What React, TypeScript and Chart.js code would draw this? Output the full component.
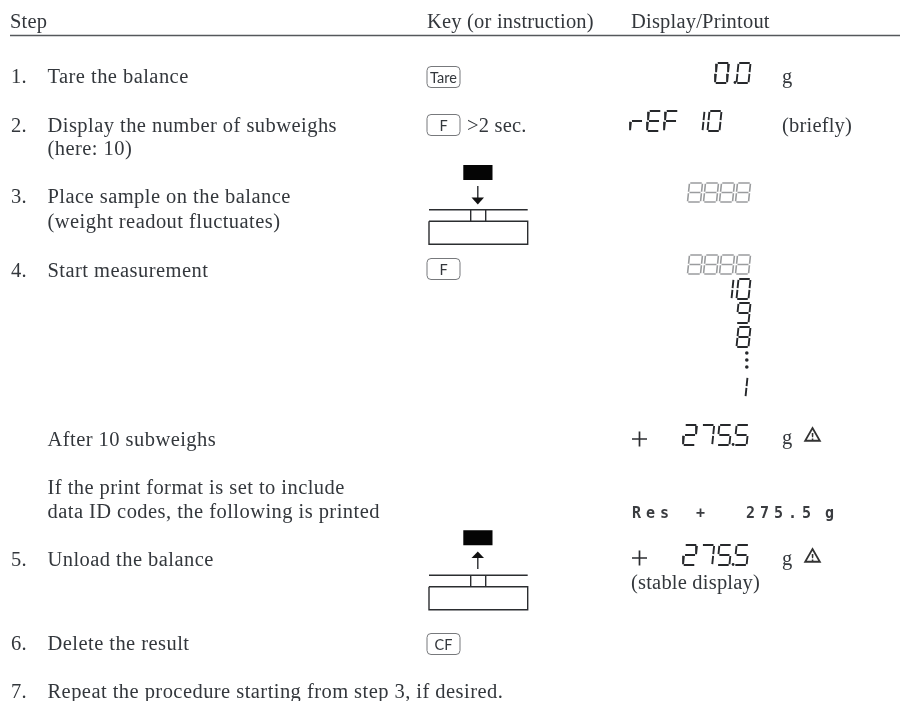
import React, { useEffect, useRef } from "react";
import { Chart, registerables } from "chart.js";

Chart.register(...registerables);

// ---- content ----
const headers = ["Step", "Key (or instruction)", "Display/Printout"];
const stepNumbers = ["1.", "2.", "3.", "4.", "5.", "6.", "7."];
const stepNumberRows = [83, 132, 203, 277, 566, 650, 698];
const stepLines = [
  "Tare the balance",
  "Display the number of subweighs",
  "(here: 10)",
  "Place sample on the balance",
  "(weight readout fluctuates)",
  "Start measurement",
  "After 10 subweighs",
  "If the print format is set to include",
  "data ID codes, the following is printed",
  "Unload the balance",
  "Delete the result",
  "Repeat the procedure starting from step 3, if desired.",
];
const stepLineRows = [83, 132, 155, 203, 228, 277, 446, 494, 518, 566, 650, 698];
const keyLabels = ["Tare", "F", "F", "CF"];
const keyRows = [77, 125, 269, 644];
const displayNotes = ["g", "(briefly)", "g", "g", "(stable display)", ">2 sec."];
const displayNoteX = [782, 782, 782, 782, 631, 467];
const displayNoteRows = [83, 132, 444, 565, 589, 132];
const printoutParts = ["Res", "+", "275.5", "g"];
const printoutX = [632, 696, 746, 825];
const blackReadouts = ["0.0", "rEF", "10", "10", "9", "8", "1", "275.5", "275.5"];
const blackReadoutX = [716, 631, 702, 731, 737.5, 737.5, 745, 684, 684];
const blackReadoutTop = [63, 111, 111, 279, 303, 327, 377, 425, 545];
const blackReadoutPitch = [21.5, 17, 17, 17, 17, 17, 17, 17.2, 17.2];
const grayReadoutTop = [183, 255];
const plusRows = [439, 558];
const warningRows = [436.5, 557.5];
const ellipsisRows = [353, 360, 367];

// ---- seven-segment geometry ----
const SEG: Record<string, string> = {
  "0": "abcdef", "1": "bc", "2": "abged", "5": "afgcd", "7": "abc", "8": "abcdefg",
  "9": "abcdfg", r: "eg", E: "afged", F: "afge",
};
type P = { x: number; y: number };
const BREAK: P = { x: NaN, y: NaN };

function glyph(ch: string, x: number, y: number, w: number, h: number): P[] {
  const out: P[] = [];
  const slant = 2;
  const px = (u: number, v: number) => ({ x: x + u * w + (1 - v) * slant - slant / 2, y: y + v * h });
  const lines: Record<string, [number, number, number, number]> = {
    a: [0.06, 0, 0.94, 0],
    b: [1, 0.04, 1, 0.46],
    c: [1, 0.54, 1, 0.96],
    d: [0.06, 1, 0.94, 1],
    e: [0, 0.54, 0, 0.96],
    f: [0, 0.04, 0, 0.46],
    g: [0.08, 0.5, 0.92, 0.5],
  };
  for (const s of SEG[ch] || "") {
    const l = lines[s];
    out.push(px(l[0], l[1]), px(l[2], l[3]), BREAK);
  }
  return out;
}

function readout(str: string, x: number, y: number, w: number, h: number, pitch: number): { segs: P[]; dots: P[] } {
  const segs: P[] = [];
  const dots: P[] = [];
  let cx = x;
  for (const ch of str) {
    if (ch === ".") {
      dots.push({ x: cx - 2.5, y: y + h - 0.5 });
    } else if (ch === "1") {
      segs.push(...glyph("1", cx - w + 1.5, y, w, h));
      cx += 6.5;
    } else {
      segs.push(...glyph(ch, cx, y, w, h));
      cx += pitch;
    }
  }
  return { segs, dots };
}

const SERIF = '"Liberation Serif", serif';
const BODY = `20.5px ${SERIF}`;
const INK = "#33373c";

const drawTexts = {
  id: "drawTexts",
  afterDatasetsDraw(chart: any) {
    const { ctx, scales } = chart;
    const X = (v: number) => scales.x.getPixelForValue(v);
    const Y = (v: number) => scales.y.getPixelForValue(v);
    ctx.save();
    ctx.fillStyle = INK;
    ctx.textBaseline = "alphabetic";
    ctx.textAlign = "left";
    const t = (s: string, x: number, y: number, font = BODY, color = INK) => {
      ctx.font = font;
      ctx.fillStyle = color;
      ctx.fillText(s, X(x), Y(y));
    };
    ctx.letterSpacing = "0.2px";
    t(headers[0], 10, 28);
    t(headers[1], 427, 28);
    t(headers[2], 631, 28);
    stepNumbers.forEach((s, i) => t(s, 11, stepNumberRows[i]));
    ctx.letterSpacing = "0.45px";
    stepLines.forEach((s, i) => t(s, 47.5, stepLineRows[i]));
    ctx.letterSpacing = "0.2px";
    displayNotes.forEach((s, i) => t(s, displayNoteX[i], displayNoteRows[i]));
    ctx.letterSpacing = "0px";

    // key caps
    keyLabels.forEach((s, i) => {
      const cy = keyRows[i];
      ctx.beginPath();
      ctx.roundRect(X(427), Y(cy - 10.5), 33, 21, 4);
      ctx.strokeStyle = "#77797c";
      ctx.lineWidth = 1;
      ctx.stroke();
      ctx.textAlign = "center";
      t(s, 443.5, cy + 5.5, "14.5px Lato, sans-serif");
      ctx.textAlign = "left";
    });

    // arrow heads
    ctx.fillStyle = "#111";
    const poly = (pts: number[][]) => {
      ctx.beginPath();
      pts.forEach((p, i) => (i ? ctx.lineTo(X(p[0]), Y(p[1])) : ctx.moveTo(X(p[0]), Y(p[1]))));
      ctx.closePath();
      ctx.fill();
    };
    poly([[471.5, 197.5], [484, 197.5], [477.8, 204.5]]);
    poly([[471.5, 558], [484, 558], [477.8, 551.5]]);

    // print-out line
    ctx.letterSpacing = "5px";
    printoutParts.forEach((s, i) => t(s, printoutX[i], 518, 'bold 15px "DejaVu Sans Mono", monospace', "#3a3c40"));
    ctx.letterSpacing = "0px";

    // warning mark
    ctx.textAlign = "center";
    warningRows.forEach((r) => t("!", 812.5, r + 3.5, `bold 9px "DejaVu Sans", sans-serif`, "#333"));
    ctx.restore();
  },
};

export default function App() {
  const ref = useRef<HTMLCanvasElement>(null);
  useEffect(() => {
    const black: P[] = [];
    const dots: P[] = [];
    blackReadouts.forEach((s, i) => {
      const r = readout(s, blackReadoutX[i], blackReadoutTop[i], 12, 20, blackReadoutPitch[i]);
      black.push(...r.segs);
      dots.push(...r.dots);
    });

    const ellipsis: P[] = ellipsisRows.map((y) => ({ x: 746.8, y }));

    const gray: P[] = [];
    grayReadoutTop.forEach((y) => gray.push(...readout("8888", 688.5, y, 13, 19, 16).segs));

    const rules: P[] = [{ x: 10, y: 35.5 }, { x: 900, y: 35.5 }];

    const balance = (top: number): P[] => [
      { x: 429, y: top }, { x: 527.7, y: top }, BREAK,
      { x: 470.7, y: top }, { x: 470.7, y: top + 11.5 }, { x: 485.7, y: top + 11.5 }, { x: 485.7, y: top }, BREAK,
      { x: 429, y: top + 11.5 }, { x: 527.7, y: top + 11.5 }, { x: 527.7, y: top + 34.5 }, { x: 429, y: top + 34.5 }, { x: 429, y: top + 11.5 }, BREAK,
    ];
    const frames: P[] = [
      ...balance(209.7), ...balance(575.3),
      { x: 477.8, y: 186 }, { x: 477.8, y: 198 }, BREAK,
      { x: 477.8, y: 557 }, { x: 477.8, y: 569 }, BREAK,
    ];

    const plus: P[] = [];
    plusRows.forEach((y) => plus.push({ x: 632, y }, { x: 647, y }, BREAK, { x: 639.5, y: y - 7.5 }, { x: 639.5, y: y + 7.5 }, BREAK));

    const weights: P[] = [
      { x: 463.3, y: 172.5 }, { x: 492.5, y: 172.5 }, BREAK,
      { x: 463.3, y: 537.7 }, { x: 492.5, y: 537.7 }, BREAK,
    ];

    const line = (data: P[], color: string, width: number) => ({
      type: "scatter" as const,
      data,
      showLine: true,
      spanGaps: false,
      borderColor: color,
      borderWidth: width,
      pointRadius: 0,
      borderCapStyle: "butt" as const,
    });

    const chart = new Chart(ref.current!, {
      type: "scatter",
      data: {
        datasets: [
          line(rules, "#55585c", 1.6),
          line(weights, "#050505", 15),
          line(frames, "#2b2d30", 1.4),
          line(plus, "#2b2d30", 1.7),
          line(black, "#26282b", 1.9),
          line(gray, "#9a9c9e", 1.6),
          { data: dots, pointRadius: 1.4, pointBackgroundColor: "#26282b", pointBorderWidth: 0 },
          { data: ellipsis, pointRadius: 1.8, pointBackgroundColor: "#26282b", pointBorderWidth: 0 },
          {
            data: warningRows.map((y) => ({ x: 812.5, y })),
            pointStyle: "triangle",
            pointRadius: 8.5,
            pointBackgroundColor: "#fff",
            pointBorderColor: "#333",
            pointBorderWidth: 1.8,
          },
        ] as any,
      },
      options: {
        animation: false,
        responsive: false,
        layout: { padding: 0, autoPadding: false },
        plugins: { legend: { display: false }, tooltip: { enabled: false } },
        scales: {
          x: { type: "linear", min: 0, max: 911, display: false },
          y: { type: "linear", min: 0, max: 701, reverse: true, display: false },
        },
      },
      plugins: [drawTexts],
    });
    return () => chart.destroy();
  }, []);

  return (
    <canvas
      ref={ref}
      width={911}
      height={701}
      style={{ position: "fixed", left: 0, top: 0, width: 911, height: 701, background: "#fff" }}
    />
  );
}
